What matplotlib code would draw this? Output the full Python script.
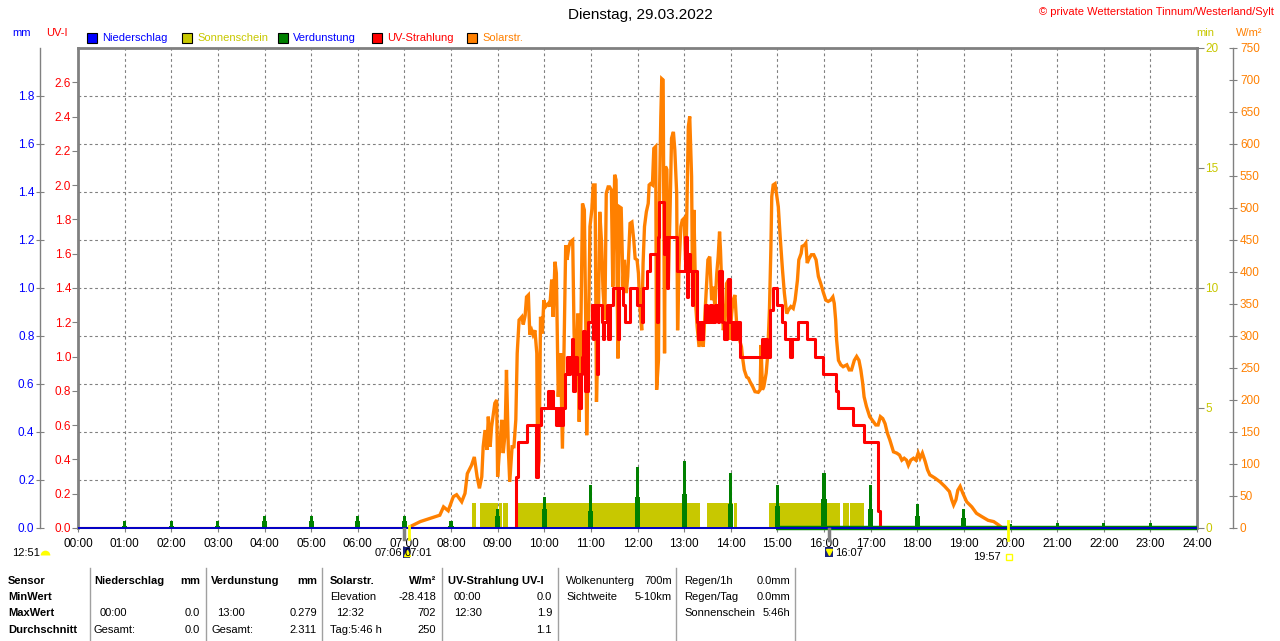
import matplotlib.pyplot as plt
from matplotlib.patches import Rectangle
from matplotlib.lines import Line2D
import numpy as np

plt.rcParams['font.family'] = ['Liberation Sans', 'DejaVu Sans']
plt.rcParams['font.size'] = 8

# ---------------- data ----------------
hour_ticks = list(range(25))
hour_labels = ['%02d:00' % h for h in hour_ticks]

# Solarstrahlung W/m2 (time in hours)
solar_t = [7.10, 7.12, 7.34, 7.55, 7.76, 7.84, 7.94, 8.05, 8.12, 8.23, 8.30, 8.35, 8.44, 8.50,
           8.56, 8.61, 8.66, 8.69, 8.73, 8.77, 8.80, 8.84, 8.87, 8.91, 8.94, 8.98, 9.00, 9.05,
           9.09, 9.12, 9.16, 9.19, 9.23, 9.26, 9.31, 9.35, 9.39, 9.42, 9.46, 9.52, 9.55, 9.59,
           9.62, 9.66, 9.69, 9.73, 9.76, 9.80, 9.84, 9.86, 9.89, 9.92, 9.96, 9.99, 10.03, 10.09,
           10.12, 10.16, 10.19, 10.23, 10.26, 10.30, 10.35, 10.39, 10.42, 10.46, 10.49, 10.53,
           10.56, 10.61, 10.64, 10.68, 10.72, 10.75, 10.79, 10.82, 10.86, 10.89, 10.91, 10.94,
           10.98, 11.02, 11.05, 11.09, 11.12, 11.16, 11.19, 11.23, 11.26, 11.30, 11.33, 11.37,
           11.40, 11.44, 11.47, 11.51, 11.54, 11.58, 11.61, 11.65, 11.69, 11.72, 11.76, 11.79,
           11.84, 11.88, 11.92, 11.95, 11.99, 12.02, 12.05, 12.09, 12.12, 12.15, 12.19, 12.23,
           12.25, 12.28, 12.32, 12.35, 12.39, 12.41, 12.45, 12.47, 12.50, 12.52, 12.55, 12.58,
           12.60, 12.63, 12.66, 12.70, 12.73, 12.77, 12.80, 12.84, 12.86, 12.89, 12.93, 12.96,
           13.00, 13.03, 13.05, 13.09, 13.12, 13.16, 13.18, 13.21, 13.25, 13.28, 13.32, 13.37,
           13.41, 13.44, 13.51, 13.55, 13.59, 13.62, 13.66, 13.70, 13.73, 13.76, 13.78, 13.81,
           13.84, 13.88, 13.91, 13.95, 13.98, 14.02, 14.05, 14.09, 14.13, 14.16, 14.20, 14.23,
           14.25, 14.29, 14.34, 14.38, 14.41, 14.47, 14.52, 14.59, 14.63, 14.65, 14.68, 14.71,
           14.76, 14.79, 14.83, 14.86, 14.88, 14.91, 14.95, 14.98, 15.02, 15.06, 15.11, 15.15,
           15.20, 15.24, 15.29, 15.34, 15.38, 15.43, 15.46, 15.51, 15.53, 15.58, 15.61, 15.64,
           15.68, 15.73, 15.78, 15.83, 15.88, 15.93, 15.99, 16.04, 16.09, 16.14, 16.19, 16.22,
           16.25, 16.27, 16.31, 16.36, 16.41, 16.49, 16.54, 16.59, 16.65, 16.70, 16.75, 16.79,
           16.83, 16.86, 16.91, 16.98, 17.06, 17.11, 17.16, 17.21, 17.26, 17.31, 17.36, 17.41,
           17.49, 17.56, 17.62, 17.67, 17.72, 17.77, 17.81, 17.86, 17.92, 17.97, 18.02, 18.06,
           18.11, 18.17, 18.22, 18.27, 18.38, 18.49, 18.59, 18.69, 18.74, 18.78, 18.83, 18.87,
           18.92, 18.98, 19.06, 19.17, 19.27, 19.38, 19.52, 19.64, 19.74, 19.81]
solar_w = [0, 2, 10, 15, 20, 33, 27, 49, 52, 41, 54, 85, 98, 111,
           80, 62, 80, 127, 153, 122, 174, 127, 158, 179, 195, 200, 80, 132,
           169, 117, 148, 247, 122, 72, 127, 127, 169, 273, 325, 330, 318, 332,
           361, 364, 302, 309, 302, 309, 273, 85, 106, 330, 304, 356, 346, 351,
           346, 388, 330, 416, 398, 205, 273, 124, 263, 442, 419, 440,
           447, 450, 304, 231, 335, 166, 335, 507, 497, 320, 145, 263,
           471, 497, 536, 536, 197, 314, 494, 445, 372, 325, 523, 533,
           533, 528, 377, 552, 544, 265, 502, 500, 377, 419, 367, 393,
           476, 478, 450, 421, 419, 398, 346, 309, 414, 471, 494, 507,
           536, 538, 536, 593, 596, 216, 263, 512, 643, 702, 700, 273,
           565, 560, 377, 502, 609, 619, 591, 523, 309, 408, 471, 481,
           484, 419, 460, 627, 643, 549, 377, 497, 346, 314, 283, 304,
           283, 325, 419, 424, 356, 377, 346, 398, 424, 463, 434, 372,
           309, 325, 382, 387, 294, 335, 356, 364, 314, 304, 291, 283,
           268, 247, 236, 234, 229, 221, 213, 212, 216, 286, 216, 221,
           242, 268, 341, 434, 518, 536, 538, 523, 502, 455, 403, 367,
           335, 341, 346, 343, 356, 387, 419, 429, 440, 442, 445, 414,
           421, 427, 427, 419, 393, 382, 367, 356, 354, 356, 361, 351,
           325, 294, 262, 255, 252, 255, 247, 247, 262, 268, 262, 247,
           226, 205, 190, 174, 166, 161, 161, 174, 171, 163, 148, 138,
           119, 117, 114, 106, 109, 106, 98, 106, 109, 106, 117, 109,
           117, 104, 91, 83, 78, 72, 65, 57, 44, 36, 44, 59,
           65, 54, 41, 33, 23, 18, 12, 10, 5, 1]

# UV-Strahlung UV-I (step values)
uv_t = [0.0, 9.394, 9.43, 9.637, 9.816, 9.873, 9.923, 10.088, 10.123, 10.16, 10.195, 10.245,
        10.28, 10.302, 10.34, 10.373, 10.41, 10.445, 10.48, 10.516, 10.55, 10.588, 10.624,
        10.66, 10.695, 10.752, 10.78, 10.803, 10.824, 10.874, 10.945, 11.017, 11.04, 11.067,
        11.124, 11.16, 11.231, 11.26, 11.281, 11.339, 11.37, 11.41, 11.482, 11.589, 11.61,
        11.696, 11.73, 11.839, 11.982, 12.089, 12.125, 12.197, 12.268, 12.411, 12.433, 12.468,
        12.568, 12.597, 12.64, 12.661, 12.84, 13.019, 13.055, 13.09, 13.126, 13.16, 13.197,
        13.269, 13.30, 13.341, 13.376, 13.41, 13.448, 13.50, 13.555, 13.60, 13.662, 13.72,
        13.755, 13.805, 13.86, 13.912, 13.948, 13.984, 14.03, 14.06, 14.091, 14.14, 14.198,
        14.663, 14.70, 14.735, 14.785, 14.842, 14.913, 14.999, 15.092, 15.164, 15.271, 15.307,
        15.449, 15.628, 15.807, 15.986, 16.25, 16.293, 16.629, 16.865, 17.165, 17.201, 24.0]
uv_v = [0.0, 0.3, 0.5, 0.6, 0.3, 0.6, 0.7, 0.8, 0.7, 0.8, 0.7, 0.6,
        0.7, 0.6, 0.7, 0.6, 0.7, 0.9, 1.0, 0.9, 1.0, 1.1, 0.8,
        1.0, 0.9, 0.7, 0.9, 1.0, 1.15, 0.8, 1.2, 1.3, 1.1, 1.3,
        0.9, 1.3, 1.2, 1.1, 1.2, 1.3, 1.1, 1.3, 1.4, 1.1, 1.4,
        1.3, 1.2, 1.4, 1.3, 1.2, 1.4, 1.5, 1.6, 1.2, 1.7, 1.9,
        1.6, 1.7, 1.4, 1.7, 1.5, 1.7, 1.35, 1.6, 1.5, 1.3, 1.5,
        1.2, 1.1, 1.2, 1.1, 1.2, 1.3, 1.2, 1.3, 1.2, 1.3, 1.2,
        1.5, 1.2, 1.1, 1.2, 1.45, 1.2, 1.1, 1.2, 1.1, 1.2, 1.0,
        1.1, 1.0, 1.1, 1.0, 1.27, 1.4, 1.3, 1.2, 1.1, 1.0, 1.1,
        1.2, 1.1, 1.0, 0.9, 0.8, 0.7, 0.6, 0.5, 0.1, 0.0, 0.0]

# Verdunstung mm (hourly spikes)
evap_t = list(range(1, 24))
evap_mm = [0.03, 0.03, 0.03, 0.05, 0.05, 0.05, 0.05, 0.03, 0.08, 0.13, 0.18, 0.255,
           0.279, 0.23, 0.18, 0.23, 0.18, 0.10, 0.08, 0.015, 0.02, 0.02, 0.02]
evap_base = [0.01, 0.01, 0.01, 0.03, 0.03, 0.03, 0.03, 0.01, 0.05, 0.08, 0.07, 0.13,
             0.14, 0.10, 0.09, 0.12, 0.08, 0.05, 0.04, 0.01, 0.01, 0.01, 0.01]
evap_line_t = [14.97, 24.0]
evap_line_mm = [0.0, 0.0]

# Sonnenschein min (intervals)
sun_start = [8.457, 8.63, 9.02, 9.12, 9.44, 13.50, 13.84, 14.08, 14.82, 16.40, 16.56]
sun_end = [8.53, 9.00, 9.10, 9.23, 13.33, 13.83, 14.05, 14.13, 16.34, 16.53, 16.85]
sun_min = 1.05

# Niederschlag mm
rain_t = [0.0, 24.0]
rain_mm = [0.0, 0.0]

# ---------------- figure ----------------
W, H = 1280, 641
L, R, T, B = 78, 1197, 48, 528
fig = plt.figure(figsize=(W / 100, H / 100), dpi=100)
rect = [L / W, 1 - B / H, (R - L) / W, (B - T) / H]

GRAY = '#808080'
BLUE = '#0000ff'
OLIVE = '#c8c800'
GREEN = '#008000'
RED = '#ff0000'
ORANGE = '#ff8000'


def fx(x):
    return x / W


def fy(y):
    return 1 - y / H


def hx(h):
    return L + (R - L) * h / 24.0


# grid axis (bottom layer)
ax_g = fig.add_axes(rect)
ax_g.set_xlim(0, 24)
ax_g.set_ylim(0, 2.0)
ax_g.set_xticks(hour_ticks)
ax_g.set_xticklabels(hour_labels)
ax_g.set_yticks(np.arange(0.2, 2.0, 0.2))
ax_g.grid(True, color=GRAY, ls=(0, (2.5, 2.5)), lw=0.8)
ax_g.tick_params(axis='y', left=False, labelleft=False)
ax_g.tick_params(axis='x', length=3, color=GRAY, pad=4, labelsize=8.5)
for s in ['top', 'left', 'right']:
    ax_g.spines[s].set_visible(False)
ax_g.spines['bottom'].set_color(GRAY)
ax_g.spines['bottom'].set_linewidth(1.5)


def overlay():
    a = fig.add_axes(rect)
    a.set_facecolor('none')
    a.set_xlim(0, 24)
    a.set_xticks([])
    for s in a.spines.values():
        s.set_visible(False)
    return a


# Sonnenschein
ax_min = overlay()
ax_min.set_ylim(0, 20)
widths = [e - s for s, e in zip(sun_start, sun_end)]
ax_min.bar(sun_start, [sun_min] * len(sun_start), width=widths, align='edge',
           color=OLIVE, linewidth=0)
ax_min.yaxis.tick_right()
ax_min.set_yticks([0, 5, 10, 15, 20])
ax_min.tick_params(axis='y', colors=GRAY, labelcolor=OLIVE, length=5, pad=1, labelsize=8.5)
ax_min.spines['right'].set_visible(True)
ax_min.spines['right'].set_color(GRAY)
ax_min.spines['right'].set_linewidth(2)

# Solarstrahlung
ax_w = overlay()
ax_w.set_ylim(0, 750)
ax_w.plot(solar_t, solar_w, color=ORANGE, lw=2.4, solid_joinstyle='miter')
ax_w.yaxis.tick_right()
ax_w.set_yticks(np.arange(0, 751, 50))
ax_w.tick_params(axis='y', direction='inout', colors=GRAY, labelcolor=ORANGE, length=6, pad=2,
                 labelsize=8.5)
ax_w.spines['right'].set_visible(True)
ax_w.spines['right'].set_position(('axes', (1233 - L) / (R - L)))
ax_w.spines['right'].set_color(GRAY)
ax_w.spines['right'].set_linewidth(1)

# UV-Strahlung
ax_uv = overlay()
ax_uv.set_ylim(0, 2.8)
ax_uv.plot(uv_t, uv_v, color=RED, lw=2.2, drawstyle='steps-post')
ax_uv.set_yticks(np.arange(0, 2.7, 0.2))
ax_uv.set_yticklabels(['%.1f' % v for v in np.arange(0, 2.7, 0.2)])
ax_uv.tick_params(axis='y', colors=GRAY, labelcolor=RED, length=4, pad=1, labelsize=8.5)
for s in ['left', 'top']:
    ax_uv.spines[s].set_visible(True)
    ax_uv.spines[s].set_color(GRAY)
    ax_uv.spines[s].set_linewidth(2)

# Verdunstung + Niederschlag
ax_mm = overlay()
ax_mm.set_ylim(0, 2.0)
ax_mm.bar(evap_t, evap_base, width=0.11, color=GREEN, linewidth=0)
ax_mm.bar(evap_t, evap_mm, width=0.065, color=GREEN, linewidth=0)
ax_mm.plot(evap_line_t, evap_line_mm, color=GREEN, lw=3.2, clip_on=False,
           solid_capstyle='butt')
ax_mm.plot(rain_t, rain_mm, color='#0000c8', lw=1.4, clip_on=False, solid_capstyle='butt')
ax_mm.set_yticks(np.arange(0, 1.9, 0.2))
ax_mm.set_yticklabels(['%.1f' % v for v in np.arange(0, 1.9, 0.2)])
ax_mm.tick_params(axis='y', direction='inout', colors=GRAY, labelcolor=BLUE, length=6, pad=1,
                  labelsize=8.5)
ax_mm.spines['left'].set_visible(True)
ax_mm.spines['left'].set_position(('axes', (40 - L) / (R - L)))
ax_mm.spines['left'].set_color(GRAY)
ax_mm.spines['left'].set_linewidth(1)

# ---------------- header texts ----------------
fig.text(0.5, fy(15), 'Dienstag, 29.03.2022', ha='center', va='center', fontsize=11)
fig.text(fx(1274), fy(12), '\u00a9 private Wetterstation Tinnum/Westerland/Sylt', ha='right',
         va='center', fontsize=8, color=RED)
fig.text(fx(22), fy(33), 'mm', ha='center', va='center', color=BLUE, fontsize=8)
fig.text(fx(57), fy(33), 'UV-I', ha='center', va='center', color=RED, fontsize=8)
fig.text(fx(1205), fy(33), 'min', ha='center', va='center', color=OLIVE, fontsize=8)
fig.text(fx(1249), fy(33), 'W/m\u00b2', ha='center', va='center', color=ORANGE, fontsize=8)

legend_items = [('Niederschlag', BLUE, BLUE), ('Sonnenschein', OLIVE, OLIVE),
                ('Verdunstung', GREEN, BLUE), ('UV-Strahlung', RED, RED),
                ('Solarstr.', ORANGE, ORANGE)]
leg_x = [87, 182, 278, 372, 467]
for (name, c, tc), x in zip(legend_items, leg_x):
    fig.add_artist(Rectangle((fx(x), fy(43)), 10 / W, 10 / H, transform=fig.transFigure,
                             facecolor=c, edgecolor='black', lw=0.8))
    fig.text(fx(x + 15), fy(38), name, ha='left', va='center', color=tc, fontsize=8)

# ---------------- sun / moon markers under axis ----------------
fig.text(fx(12), fy(553), '12:51', ha='left', va='center', fontsize=8)
fig.add_artist(Line2D([fx(45)], [fy(555)], marker='o', ms=7, fillstyle='top', color='#ffff00',
                      markerfacecoloralt='none', markeredgewidth=0, transform=fig.transFigure))

fig.add_artist(Line2D([fx(hx(7.0))] * 2, [fy(529), fy(539)], color=GRAY, lw=2.5,
                      transform=fig.transFigure))
fig.add_artist(Line2D([fx(hx(7.1))] * 2, [fy(526), fy(539)], color='#ffff00', lw=2,
                      transform=fig.transFigure))
fig.text(fx(402), fy(553), '07:06', ha='right', va='center', fontsize=8)
fig.text(fx(405), fy(553), '07:01', ha='left', va='center', fontsize=8)
fig.add_artist(Rectangle((fx(403), fy(558)), 7 / W, 11 / H, transform=fig.transFigure,
                         facecolor='#1a237e', edgecolor='none'))
fig.add_artist(Line2D([fx(406.5)], [fy(553)], marker='^', ms=4, color='#ffff00',
                      transform=fig.transFigure))

fig.add_artist(Line2D([fx(hx(16.117))] * 2, [fy(529), fy(540)], color=GRAY, lw=2.5,
                      transform=fig.transFigure))
fig.add_artist(Rectangle((fx(825), fy(557)), 8 / W, 10 / H, transform=fig.transFigure,
                         facecolor='#1a237e', edgecolor='none'))
fig.add_artist(Line2D([fx(829)], [fy(552)], marker='v', ms=4, color='#ffff00',
                      transform=fig.transFigure))
fig.text(fx(835), fy(553), '16:07', ha='left', va='center', fontsize=8)

fig.add_artist(Line2D([fx(hx(19.95))] * 2, [fy(521), fy(540)], color='#ffff00', lw=2,
                      transform=fig.transFigure))
fig.text(fx(1001), fy(557), '19:57', ha='right', va='center', fontsize=8)
fig.add_artist(Line2D([fx(1009)], [fy(557)], marker='s', ms=4, markerfacecolor='none',
                      markeredgecolor='#ffff00', transform=fig.transFigure))

# ---------------- bottom table ----------------
sep_x = [90, 206, 322, 442, 558, 676, 795]
for x in sep_x:
    fig.add_artist(Line2D([fx(x)] * 2, [fy(568), fy(641)], color='#a0a0a0', lw=1,
                          transform=fig.transFigure))

row_y = [581, 597, 613, 630]
for y, t in zip(row_y, ['Sensor', 'MinWert', 'MaxWert', 'Durchschnitt']):
    fig.text(fx(8), fy(y), t, ha='left', va='center', fontsize=8, fontweight='bold')

table_cells = [
    (94, 0, 'Niederschlag', 'left', True), (200, 0, 'mm', 'right', True),
    (100, 2, '00:00', 'left', False), (200, 2, '0.0', 'right', False),
    (94, 3, 'Gesamt:', 'left', False), (200, 3, '0.0', 'right', False),
    (211, 0, 'Verdunstung', 'left', True), (317, 0, 'mm', 'right', True),
    (217, 2, '13:00', 'left', False), (317, 2, '0.279', 'right', False),
    (211, 3, 'Gesamt:', 'left', False), (317, 3, '2.311', 'right', False),
    (330, 0, 'Solarstr.', 'left', True), (436, 0, 'W/m\u00b2', 'right', True),
    (330, 1, 'Elevation', 'left', False), (436, 1, '-28.418', 'right', False),
    (336, 2, '12:32', 'left', False), (436, 2, '702', 'right', False),
    (330, 3, 'Tag:5:46 h', 'left', False), (436, 3, '250', 'right', False),
    (448, 0, 'UV-Strahlung UV-I', 'left', True),
    (454, 1, '00:00', 'left', False), (552, 1, '0.0', 'right', False),
    (454, 2, '12:30', 'left', False), (552, 2, '1.9', 'right', False),
    (552, 3, '1.1', 'right', False),
    (566, 0, 'Wolkenunterg', 'left', False), (672, 0, '700m', 'right', False),
    (566, 1, 'Sichtweite', 'left', False), (672, 1, '5-10km', 'right', False),
    (684, 0, 'Regen/1h', 'left', False), (790, 0, '0.0mm', 'right', False),
    (684, 1, 'Regen/Tag', 'left', False), (790, 1, '0.0mm', 'right', False),
    (684, 2, 'Sonnenschein', 'left', False), (790, 2, '5:46h', 'right', False),
]
for x, r, t, ha, bold in table_cells:
    fig.text(fx(x), fy(row_y[r]), t, ha=ha, va='center', fontsize=8,
             fontweight='bold' if bold else 'normal')

fig.savefig('out.png', dpi=100, facecolor='white')
